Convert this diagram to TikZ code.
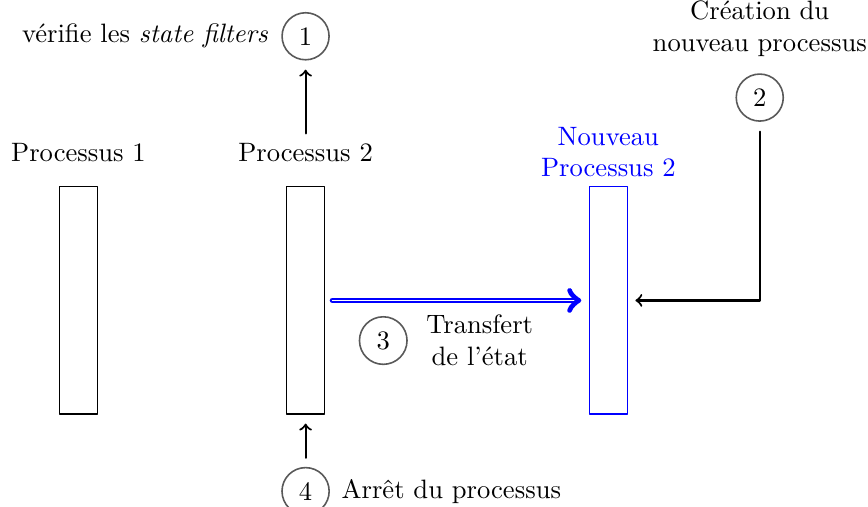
\documentclass[tikz,border=0pt]{standalone}
\usepackage{fontspec}
\usetikzlibrary{positioning,arrows.meta}
\tikzset{
  procbox/.style={draw, minimum width=5mm, minimum height=3cm, inner sep=0pt},
  etape/.style={circle, draw=black!65, semithick, inner sep=0.3333em},
}
\begin{document}
\begin{tikzpicture}[line join=round, line cap=round, >=to]
\useasboundingbox (-1.037,-2.728) rectangle (10.43,3.969);
% les processus
\node[procbox] (p1box) at (0,0) {};
\node[procbox] (p2box) at (3,0) {};
\node[procbox, draw=blue] (nvbox) at (7,0) {};
\node (p1lab) at (0,1.96) {Processus 1};
\node (p2lab) at (3,1.96) {Processus 2};
\node[blue, align=center] (nvlab) at (7,1.96) {Nouveau\\Processus 2};
% etape 1
\node[etape] (c1) at (3,3.49) {1};
\node[left=0.5mm of c1] (t1) {vérifie les \textit{state filters}};
\draw[thick, ->, shorten >=1.2mm] (p2lab) -- (c1);
% etape 2
\node[etape] (c2) at (9,2.68) {2};
\node[above=1mm of c2, align=center] (t2) {Création du\\nouveau processus};
\draw[thick, ->, shorten <=1.3mm, shorten >=1mm] (c2) |- (nvbox.east);
% etape 3
\draw[blue, thick, double, ->, shorten <=1mm, shorten >=1mm] (p2box.east) -- (nvbox.west);
\node[align=center] (t3) at (5.3,-0.53) {Transfert\\de l'état};
\node[etape, left=1.2mm of t3] (c3) {3};
% etape 4
\node[etape] (c4) at (3,-2.52) {4};
\node[right=0.3mm of c4] (t4) {Arrêt du processus};
\draw[thick, ->, shorten <=1.2mm, shorten >=1.2mm] (c4) -- (p2box.south);
\end{tikzpicture}
\end{document}
